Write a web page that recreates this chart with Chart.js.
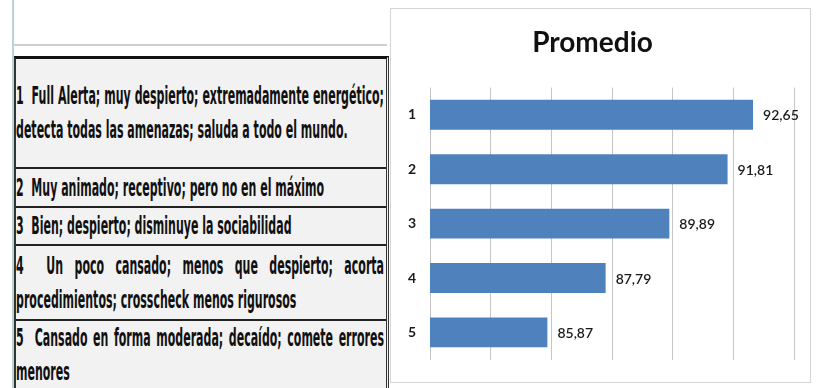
<!DOCTYPE html>
<html>
<head>
<meta charset="utf-8">
<script src="https://cdn.jsdelivr.net/npm/chart.js@4/dist/chart.umd.min.js"></script>
<style>
  html, body { margin: 0; padding: 0; background: #fff; }
  body { width: 817px; height: 388px; position: relative; overflow: hidden; }
  #edge { position: absolute; left: 12px; top: 0; width: 2px; height: 388px; background: #b9d4da; }
  #topline { position: absolute; left: 14px; top: 44px; width: 373px; height: 2px; background: #cfcfcf; }
  #tabla { position: absolute; left: 14px; top: 56px; width: 370px; border-top: 3px solid #111;
           border-left: 2px solid #333; border-right: 3px double #333; background: #f2f2f2; }
  .fila { position: relative; border-bottom: 2px solid #222; overflow: hidden; display: flex;
          flex-direction: column; justify-content: center; }
  .linea { font-family: "Liberation Sans Narrow", "DejaVu Sans Condensed", sans-serif; font-weight: bold;
           font-size: 24px; line-height: 34px; color: #111; transform-origin: 0 0; white-space: pre; }
  .just { text-align: justify; text-align-last: justify; white-space: pre-wrap; }
  #medida { position: absolute; visibility: hidden; }
  #caja { position: absolute; left: 390px; top: 8px; width: 419px; height: 373px; border: 1px solid #d4d4d4; }
</style>
</head>
<body>
<div id="edge"></div>
<div id="topline"></div>
<div id="tabla"></div>
<span id="medida" class="linea"></span>
<div id="caja"><canvas id="grafico" width="419" height="373"></canvas></div>
<script>
// niveles de alerta (tabla de la izquierda)
const descripciones = [
  ['1  Full Alerta; muy despierto; extremadamente energético;', 'detecta todas las amenazas; saluda a todo el mundo.'],
  ['2  Muy animado; receptivo; pero no en el máximo'],
  ['3  Bien; despierto; disminuye la sociabilidad'],
  ['4  Un poco cansado; menos que despierto; acorta', 'procedimientos; crosscheck menos rigurosos'],
  ['5  Cansado en forma moderada; decaído; comete errores', 'menores'],
]
const alturasFila = [108, 37, 36, 73, 68]

// datos del grafico
const categorias = ['1', '2', '3', '4', '5']
const promedios = [92.65, 91.81, 89.89, 87.79, 85.87]
const ejeMin = 82
const ejeMax = 94
const paso = 2

// la tabla usa letra muy comprimida: escalar segun la primera linea
const ANCHO = 367
const medida = document.getElementById('medida')
medida.textContent = descripciones[0][0]
const escala = ANCHO / medida.getBoundingClientRect().width
medida.remove()

const tabla = document.getElementById('tabla')
descripciones.forEach((lineas, i) => {
  const fila = document.createElement('div')
  fila.className = 'fila'
  fila.style.height = alturasFila[i] + 'px'
  lineas.forEach((txt, j) => {
    const l = document.createElement('div')
    l.className = 'linea' + (j < lineas.length - 1 ? ' just' : '')
    l.style.width = (ANCHO / escala + 2) + 'px'
    l.style.transform = `scaleX(${escala})`
    l.textContent = txt
    fila.appendChild(l)
  })
  tabla.appendChild(fila)
})

const etiquetasValor = {
  id: 'etiquetasValor',
  afterDatasetsDraw(chart) {
    const { ctx } = chart
    const meta = chart.getDatasetMeta(0)
    ctx.save()
    ctx.font = '600 14px Lato, "Open Sans", sans-serif'
    ctx.fillStyle = '#1a1a1a'
    ctx.textBaseline = 'middle'
    ctx.textAlign = 'left'
    meta.data.forEach((bar, i) => {
      const v = chart.data.datasets[0].data[i]
      ctx.fillText(v.toFixed(2).replace('.', ','), bar.x + 10, bar.y + 1)
    })
    ctx.restore()
  },
}

new Chart(document.getElementById('grafico'), {
  type: 'bar',
  data: {
    labels: categorias,
    datasets: [{
      label: 'Promedio',
      data: promedios,
      backgroundColor: '#4f81bd',
      borderWidth: 0,
      barPercentage: 0.55,
      categoryPercentage: 1,
    }],
  },
  options: {
    indexAxis: 'y',
    responsive: false,
    animation: false,
    layout: { padding: { top: 0, right: 16, bottom: 12, left: 0 } },
    plugins: {
      legend: { display: false },
      tooltip: { enabled: false },
      title: {
        display: true,
        text: 'Promedio',
        color: '#111',
        font: { family: 'Lato, "Open Sans", sans-serif', size: 28, weight: 'bold', lineHeight: 1.2 },
        padding: { top: 17, bottom: 28 },
      },
    },
    scales: {
      x: {
        min: ejeMin,
        max: ejeMax,
        ticks: { display: false, stepSize: paso },
        grid: { color: '#c4c4c4', lineWidth: 1, drawTicks: false },
        border: { display: false },
        afterFit: (s) => { s.height = 0 },
      },
      y: {
        ticks: { color: '#1a1a1a', padding: 14, font: { family: 'Lato, "Open Sans", sans-serif', size: 14, weight: 'bold' } },
        grid: { display: false, drawTicks: false },
        border: { display: false },
        afterFit: (s) => { s.width = 39 },
      },
    },
  },
  plugins: [etiquetasValor],
})
</script>
</body>
</html>
